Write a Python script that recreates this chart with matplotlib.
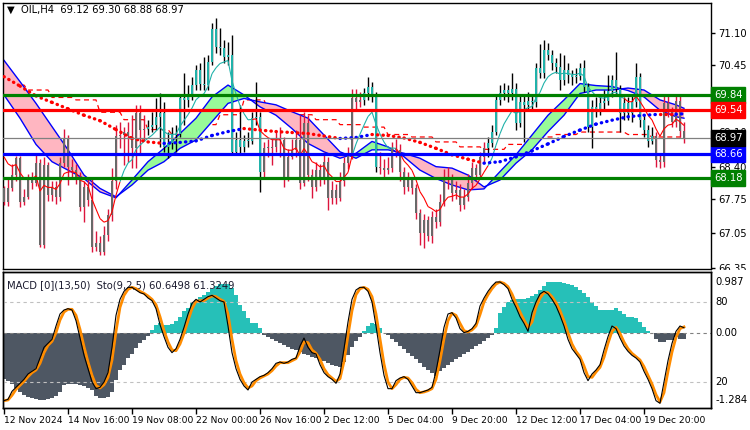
import numpy as np
import matplotlib.pyplot as plt
from matplotlib.collections import LineCollection
from matplotlib.patches import Rectangle
from matplotlib.transforms import blended_transform_factory

# OIL H4 candles (open of bar i = close of bar i-1)
first_open = 67.96
closes = [
    67.69, 67.96, 68.23, 68.57, 67.69, 67.79, 68.16, 68.06, 68.47, 66.82,
    68.43, 67.83, 67.99, 67.79, 68.47, 68.97, 68.40, 68.33, 68.20, 67.59,
    67.99, 67.73, 66.78, 66.85, 66.68, 67.02, 67.42, 68.10, 69.01, 69.04,
    69.11, 69.01, 68.77, 69.48, 69.14, 69.17, 69.21, 69.24, 69.41, 69.48,
    68.80, 68.87, 69.04, 69.07, 69.78, 69.75, 69.85, 70.05, 70.35, 70.08,
    70.05, 70.52, 71.19, 70.82, 70.79, 70.62, 70.66, 68.70, 68.94, 68.80,
    68.91, 68.91, 69.38, 69.41, 68.30, 68.77, 68.77, 68.80, 68.94, 68.94,
    68.16, 68.60, 68.74, 68.94, 68.06, 69.28, 68.23, 67.99, 68.33, 68.16,
    68.50, 67.76, 67.93, 67.76, 68.10, 68.47, 68.64, 69.78, 69.71, 69.75,
    69.88, 70.02, 69.81, 68.40, 68.37, 68.33, 68.37, 68.77, 68.74, 68.30,
    67.99, 68.13, 67.96, 67.46, 67.05, 67.32, 66.99, 67.39, 67.29, 67.69,
    68.20, 68.13, 67.86, 67.93, 67.63, 67.79, 68.06, 68.37, 68.23, 68.60,
    68.77, 68.87, 69.11, 69.75, 69.88, 69.95, 69.88, 69.98, 69.28, 69.71,
    69.65, 69.73, 69.70, 70.39, 70.29, 70.76, 70.66, 70.49, 70.42, 70.15,
    70.35, 70.25, 70.22, 70.24, 70.40, 70.02, 69.21, 69.61, 69.54, 69.68,
    69.73, 69.93, 70.15, 69.97, 69.48, 69.68, 69.48, 69.70, 70.22, 69.34,
    69.14, 68.92, 69.01, 68.53, 68.50, 69.68, 69.51, 69.31, 69.73, 69.12,
    68.97]
highs = [
    68.00, 68.20, 68.45, 68.62, 68.62, 67.95, 68.25, 68.30, 68.64, 68.55,
    68.60, 68.50, 68.10, 68.10, 68.60, 69.17, 69.05, 68.55, 68.45, 68.30,
    68.10, 68.15, 68.16, 67.10, 67.00, 67.20, 67.55, 68.37, 69.24, 69.31,
    69.20, 69.31, 69.44, 69.65, 69.65, 69.44, 69.35, 69.51, 69.78, 69.88,
    69.71, 69.11, 69.20, 69.25, 69.85, 70.29, 70.05, 70.22, 70.45, 70.49,
    70.62, 70.65, 71.30, 71.40, 71.20, 70.96, 70.93, 71.06, 69.10, 69.65,
    69.05, 69.10, 69.51, 70.12, 69.50, 68.90, 68.95, 68.95, 69.10, 69.20,
    69.00, 68.75, 68.95, 69.15, 69.44, 69.50, 69.45, 68.35, 68.50, 68.45,
    68.70, 68.60, 68.10, 68.05, 68.30, 68.60, 68.80, 69.98, 69.98, 69.90,
    70.00, 70.22, 70.12, 69.90, 68.70, 68.55, 68.60, 68.90, 68.95, 68.85,
    68.40, 68.30, 68.20, 68.05, 67.55, 67.45, 67.40, 67.50, 67.55, 67.85,
    68.35, 68.40, 68.25, 68.10, 68.05, 67.95, 68.25, 68.50, 68.45, 68.70,
    68.90, 69.00, 69.25, 69.85, 70.05, 70.10, 70.05, 70.29, 70.09, 69.85,
    69.85, 69.90, 69.85, 70.49, 70.89, 70.96, 70.90, 70.75, 70.60, 70.70,
    70.65, 70.50, 70.35, 70.40, 70.50, 70.55, 70.10, 69.75, 69.80, 69.85,
    69.95, 70.25, 70.25, 70.72, 70.05, 69.80, 69.80, 69.85, 70.49, 70.30,
    69.45, 69.25, 69.20, 69.10, 68.65, 69.84, 69.84, 69.60, 69.84, 69.84,
    69.30]
lows = [
    67.62, 67.60, 67.90, 68.10, 67.59, 67.62, 67.75, 67.95, 68.00, 66.78,
    66.75, 67.70, 67.70, 67.65, 67.70, 68.40, 68.03, 68.20, 68.05, 67.50,
    67.29, 67.60, 66.68, 66.70, 66.61, 66.62, 66.90, 67.30, 67.95, 68.77,
    68.43, 68.50, 68.37, 68.37, 68.64, 68.91, 69.05, 69.10, 69.15, 68.80,
    68.70, 68.57, 68.75, 68.70, 69.00, 69.24, 69.60, 69.75, 69.95, 69.95,
    69.95, 69.95, 70.45, 70.70, 70.65, 70.50, 70.45, 68.64, 68.63, 68.65,
    68.70, 68.80, 68.85, 69.25, 67.89, 68.20, 68.60, 68.43, 68.70, 68.60,
    67.99, 68.10, 68.55, 68.60, 67.95, 68.00, 68.10, 67.76, 67.90, 68.00,
    68.05, 67.52, 67.65, 67.65, 67.70, 68.00, 68.35, 68.55, 69.55, 69.60,
    69.65, 69.75, 69.70, 68.30, 68.25, 68.20, 68.25, 68.30, 68.60, 68.10,
    67.85, 67.90, 67.85, 67.35, 66.82, 66.75, 66.90, 66.85, 67.15, 67.20,
    67.60, 67.95, 67.70, 67.75, 67.50, 67.55, 67.70, 67.95, 68.10, 68.15,
    68.50, 68.60, 68.80, 69.05, 69.65, 69.75, 69.70, 69.75, 69.15, 69.20,
    68.90, 69.55, 69.55, 69.60, 70.20, 70.20, 70.55, 70.35, 70.30, 69.95,
    70.05, 70.10, 70.05, 70.10, 70.15, 69.90, 69.10, 68.77, 69.40, 69.45,
    69.55, 69.65, 69.80, 69.85, 69.10, 69.35, 69.35, 69.30, 69.60, 69.20,
    69.00, 68.80, 68.85, 68.40, 68.37, 68.40, 69.40, 69.20, 69.20, 69.00,
    68.88]
# stretches of bars painted teal (uptrend colouring)
teal_runs = [(36, 64), (90, 93), (121, 162)]

# moving averages read every 4 bars
ma_bars = list(range(0, 169, 4)) + [170]
fast_ma = [
    69.85, 69.38, 68.85, 68.50, 68.33, 68.16, 67.89, 67.77, 68.13, 68.50,
    68.77, 69.07, 69.38, 69.81, 70.05, 69.85, 69.61, 69.44, 69.17, 68.87,
    68.70, 68.57, 68.67, 68.91, 68.80, 68.60, 68.33, 68.16, 68.03, 67.93,
    67.95, 68.30, 68.64, 69.04, 69.44, 69.75, 70.08, 70.04, 70.02, 69.94,
    69.81, 69.54, 69.41, 69.38]
slow_ma = [
    70.55, 70.12, 69.68, 69.21, 68.74, 68.23, 67.96, 67.79, 68.03, 68.33,
    68.50, 68.77, 68.94, 69.31, 69.68, 69.78, 69.71, 69.65, 69.51, 69.38,
    69.04, 68.70, 68.57, 68.74, 68.74, 68.67, 68.57, 68.40, 68.37, 68.23,
    67.99, 68.13, 68.47, 68.74, 69.11, 69.44, 69.88, 69.95, 69.95, 69.99,
    69.95, 69.75, 69.65, 69.58]
dotted_ma = [
    70.22, 70.03, 69.83, 69.70, 69.57, 69.44, 69.33, 69.15, 68.97, 68.90,
    68.87, 68.89, 68.92, 69.03, 69.11, 69.17, 69.14, 69.11, 69.09, 69.07,
    69.02, 68.97, 68.99, 69.05, 69.03, 68.98, 68.89, 68.77, 68.64, 68.55,
    68.47, 68.50, 68.60, 68.72, 68.86, 69.01, 69.14, 69.26, 69.34, 69.41,
    69.44, 69.46, 69.46, 69.47]
# daily-timeframe average, one value per 6 H4 bars
daily_ma = [
    70.05, 69.95, 69.80, 69.75, 69.50, 69.35, 69.15, 69.05, 69.25, 69.45,
    69.75, 69.55, 69.45, 69.35, 69.25, 69.20, 69.05, 69.00, 68.90, 68.80,
    68.75, 68.85, 69.00, 69.05, 69.10, 69.10, 69.05, 69.00, 69.00]
thin_seed = 68.60

macd_hist = [
    -0.87, -0.92, -0.98, -1.05, -1.12, -1.18, -1.22, -1.25, -1.26, -1.28,
    -1.28, -1.27, -1.25, -1.20, -1.12, -1.00, -0.98, -0.97, -0.98, -1.00,
    -1.02, -1.05, -1.10, -1.20, -1.24, -1.25, -1.22, -1.13, -0.90, -0.71,
    -0.61, -0.48, -0.39, -0.29, -0.19, -0.13, -0.06, 0.06, 0.16, 0.19,
    0.16, 0.16, 0.17, 0.23, 0.32, 0.42, 0.48, 0.58, 0.65, 0.70,
    0.74, 0.79, 0.85, 0.92, 0.95, 0.95, 0.95, 0.87, 0.74, 0.55,
    0.42, 0.29, 0.20, 0.20, 0.10, -0.03, -0.07, -0.11, -0.15, -0.19,
    -0.23, -0.27, -0.30, -0.33, -0.36, -0.39, -0.42, -0.45, -0.48, -0.51,
    -0.54, -0.57, -0.60, -0.62, -0.64, -0.56, -0.42, -0.27, -0.15, -0.07,
    0.05, 0.15, 0.20, 0.18, 0.10, 0.01, -0.04, -0.10, -0.17, -0.24,
    -0.30, -0.37, -0.44, -0.50, -0.57, -0.64, -0.71, -0.77, -0.82, -0.72,
    -0.66, -0.60, -0.55, -0.50, -0.45, -0.40, -0.35, -0.30, -0.25, -0.20,
    -0.14, -0.09, -0.03, 0.10, 0.39, 0.50, 0.61, 0.65, 0.66, 0.66,
    0.66, 0.68, 0.72, 0.76, 0.84, 0.92, 0.98, 0.99, 0.99, 0.99,
    0.97, 0.95, 0.93, 0.89, 0.84, 0.77, 0.70, 0.61, 0.52, 0.45,
    0.44, 0.44, 0.45, 0.48, 0.42, 0.37, 0.32, 0.31, 0.29, 0.21,
    0.12, 0.05, 0.01, -0.10, -0.16, -0.16, -0.13, -0.12, -0.08, -0.10,
    -0.11]
sto_main = [
    6, 7, 13, 16, 19, 22, 26, 28, 30, 38,
    46, 49, 52, 62, 71, 74, 75, 74, 66, 53,
    40, 30, 20, 15, 16, 20, 27, 46, 70, 82,
    88, 91, 91, 89, 87, 86, 83, 81, 75, 63,
    54, 46, 42, 45, 52, 61, 71, 79, 82, 80,
    82, 84, 85, 83, 81, 80, 62, 42, 30, 22,
    17, 14, 20, 22, 24, 25, 27, 30, 34, 35,
    34, 35, 37, 38, 47, 53, 46, 42, 41, 33,
    27, 24, 22, 19, 26, 45, 65, 82, 89, 91,
    91, 88, 80, 62, 42, 25, 15, 15, 21, 23,
    24, 22, 17, 12, 12, 13, 14, 16, 28, 44,
    61, 71, 72, 68, 60, 57, 58, 60, 64, 77,
    83, 88, 92, 95, 95, 93, 90, 82, 76, 69,
    64, 58, 72, 80, 86, 88, 86, 82, 77, 70,
    62, 52, 45, 41, 37, 27, 21, 26, 29, 33,
    44, 54, 62, 60, 53, 47, 43, 40, 38, 35,
    28, 22, 15, 6, 4, 20, 36, 49, 58, 62.0,
    60.65]

date_labels = ["12 Nov 2024", "14 Nov 16:00", "19 Nov 08:00", "22 Nov 00:00",
               "26 Nov 16:00", "2 Dec 12:00", "5 Dec 04:00", "9 Dec 20:00",
               "12 Dec 12:00", "17 Dec 04:00", "19 Dec 20:00"]
price_ticks = [71.10, 70.45, 69.75, 69.10, 68.40, 67.75, 67.05, 66.35]
levels = [(69.84, "#008000"), (69.54, "#FF0000"), (68.66, "#0000FF"), (68.18, "#008000")]
last_price = 68.97

n = len(closes)
x = np.arange(n)
c = np.array(closes)
o = np.r_[first_open, c[:-1]]
bull = np.zeros(n, bool)
for a, b in teal_runs:
    bull[a:b + 1] = True

fig = plt.figure(figsize=(7.5, 4.3), dpi=100)
ax = fig.add_axes([3 / 750, 161 / 430, 708 / 750, 266 / 430])
axm = fig.add_axes([3 / 750, 22 / 430, 708 / 750, 136 / 430])
axs = axm.twinx()
for a in (ax, axm, axs):
    a.set_xlim(-0.25, 176.75)
    for s in a.spines.values():
        s.set_linewidth(1)

# main price panel
ax.set_ylim(66.33, 71.71)
daily = np.repeat(daily_ma, 6)[:n]
ax.plot(x, daily, color="#FF0000", lw=0.9, ls=(0, (4, 3)), zorder=0.8)

fa, sa = np.array(fast_ma), np.array(slow_ma)
ax.fill_between(ma_bars, fa, sa, where=fa >= sa, interpolate=True, color="#98FB98", lw=0, zorder=1)
ax.fill_between(ma_bars, fa, sa, where=fa < sa, interpolate=True, color="#FFB6C1", lw=0, zorder=1)
ax.plot(ma_bars, fa, color="#0000FF", lw=1, zorder=2)
ax.plot(ma_bars, sa, color="#0000FF", lw=1, zorder=2)

ax.vlines(x, lows, highs, colors=np.where(bull, "black", "#DC143C"), lw=1, zorder=3)
ax.bar(x, np.maximum(np.abs(c - o), 0.02), bottom=np.minimum(o, c), width=0.72,
       color=np.where(bull, "#20B2AA", "#696969"), lw=0, zorder=3)

# fast EMA of closes, coloured by the ribbon direction
k = 2 / (8 + 1)
thin = [thin_seed]
for v in closes[1:]:
    thin.append(thin[-1] + k * (v - thin[-1]))
up = np.interp(x, ma_bars, fa) >= np.interp(x, ma_bars, sa)
segs = [[(i, thin[i]), (i + 1, thin[i + 1])] for i in range(n - 1)]
ax.add_collection(LineCollection(segs, colors=np.where(up[:-1], "#20B2AA", "#FF0000"),
                                 lw=0.8, zorder=4))

for i in range(len(ma_bars) - 1):
    col = "#0000FF" if dotted_ma[i + 1] > dotted_ma[i] else "#FF0000"
    ax.plot(ma_bars[i:i + 2], dotted_ma[i:i + 2], color=col, lw=2.4,
            ls=(0, (0.1, 1.55)), dash_capstyle="round", zorder=4)

for lv, col in levels:
    ax.axhline(lv, color=col, lw=2.3, zorder=5)
ax.axhline(last_price, color="#808080", lw=0.9, zorder=5)

ax.set_xticks([])
ax.yaxis.tick_right()
ax.set_yticks(price_ticks)
ax.set_yticklabels([f"{v:.2f}" for v in price_ticks])
ax.tick_params(axis="y", length=3, width=1, labelsize=7.2, pad=2)
tr = blended_transform_factory(ax.transAxes, ax.transData)
for lv, col in levels + [(last_price, "black")]:
    ax.text(1.004, lv, f"{lv:.2f}", transform=tr, color="white", fontsize=7.2,
            va="center", ha="left", clip_on=False, zorder=10,
            bbox=dict(boxstyle="square,pad=0.3", fc=col, ec=col))

fig.text(7 / 750, 1 - 10 / 430, "\u25bc  OIL,H4  69.12 69.30 68.88 68.97", fontsize=7.2,
         va="center", ha="left")

# MACD histogram + stochastic panel
axm.set_ylim(-1.437, 1.18)
h = np.array(macd_hist)
axm.bar(x, h, width=0.78, color=np.where(h >= 0, "#26C0B8", "#4E5763"), lw=0)
axm.axhline(0, color="#808080", lw=0.8, ls=(0, (3, 3)))
axs.set_ylim(0.5, 102.5)
for lv in (80, 20):
    axs.axhline(lv, color="#C0C0C0", lw=0.8, ls=(0, (3, 3)))
sm = np.array(sto_main, dtype=float)
sig = np.r_[sm[0], (sm[1:] + sm[:-1]) / 2]
axs.plot(x, sig, color="#FF8C00", lw=2)
axs.plot(x, sm, color="black", lw=0.8)
axs.set_yticks([])
axm.set_yticks([])
axm.set_xticks(np.arange(0, 161, 16))
axm.set_xticklabels(date_labels, ha="left", fontsize=6.6)
axm.tick_params(axis="x", length=4, width=1, pad=2)

trm = blended_transform_factory(axm.transAxes, axm.transData)
trs = blended_transform_factory(axs.transAxes, axs.transData)
for v, s in [(0.987, "0.987"), (0.0, "0.00"), (-1.284, "-1.284")]:
    axm.text(1.006, v, s, transform=trm, fontsize=7.2, va="center", ha="left", clip_on=False)
for v in (80, 20):
    axs.text(1.006, v, str(v), transform=trs, fontsize=7.2, va="center", ha="left", clip_on=False)
axm.text(0.006, 0.905, "MACD [0](13,50)  Sto(9,2,5) 60.6498 61.3249", transform=axm.transAxes,
         fontsize=7.2, va="center", ha="left", color="#1A1A2E")

# the lowest price label is partly covered by the indicator window
fig.add_artist(Rectangle((712 / 750, 0), 38 / 750, 160 / 430, transform=fig.transFigure,
                         fc="white", ec="none", zorder=1))
axm.set_zorder(2)
axs.set_zorder(3)
axs.patch.set_visible(False)

fig.savefig("out.png", dpi=100)
